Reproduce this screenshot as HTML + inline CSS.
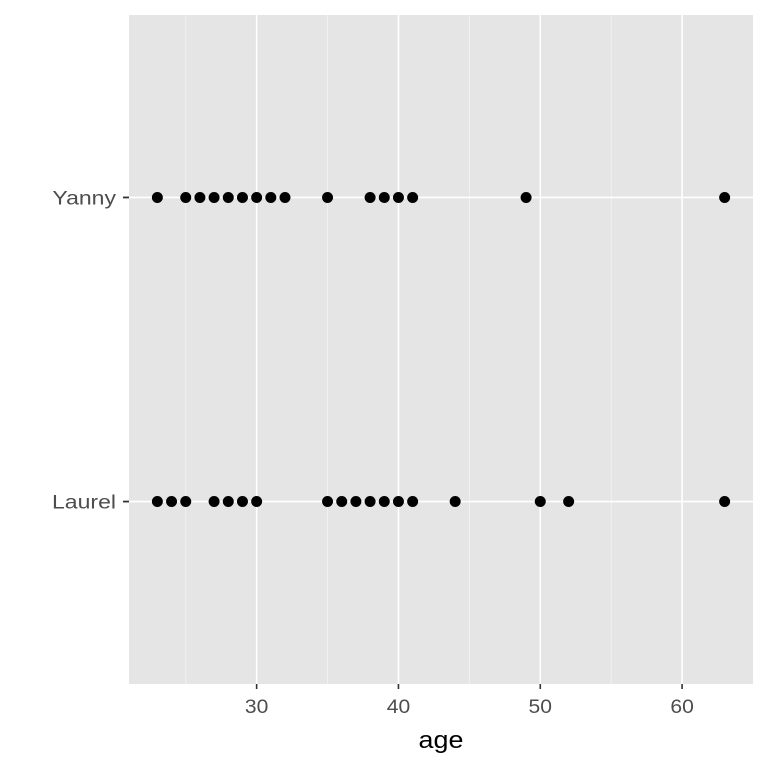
<!DOCTYPE html>
<html><head><meta charset="utf-8"><style>
body{margin:0;background:#fff;}
svg{display:block;font-family:"Liberation Sans",Arial,sans-serif;}
</style></head><body>
<svg id="chart" width="768" height="768"></svg>
<script>
const categories=["Laurel","Yanny"];
const yannyAges=[23,25,26,27,28,29,30,31,32,35,38,39,40,41,49,63];
const laurelAges=[23,24,25,27,28,29,30,35,36,37,38,39,40,41,44,50,52,63];
const xTicks=[30,40,50,60];
const xMinor=[25,35,45,55];
const L=129,R=753,T=15,B=684;
const xmin=21,xmax=65;
const sx=v=>L+(v-xmin)/(xmax-xmin)*(R-L);
const sy=i=>B-((i+1)-0.4)/2.2*(B-T);
const svg=document.getElementById('chart');
const NS="http://www.w3.org/2000/svg";
function mk(t,a,p){const e=document.createElementNS(NS,t);for(const k in a)e.setAttribute(k,a[k]);(p||svg).appendChild(e);return e;}
function widen(t,f){const w=t.getComputedTextLength();t.setAttribute('textLength',w*f);t.setAttribute('lengthAdjust','spacingAndGlyphs');}
const bg=mk('rect',{x:L,y:T,width:R-L,height:B-T,fill:'#e5e5e5'});


xMinor.forEach(v=>{const l=mk('line',{x1:sx(v),x2:sx(v),y1:T,y2:B,stroke:'#f2f2f2','stroke-width':0.9});

});
xTicks.forEach(v=>{const l=mk('line',{x1:sx(v),x2:sx(v),y1:T,y2:B,stroke:'#fff','stroke-width':1.6});


const tk=mk('line',{x1:sx(v),x2:sx(v),y1:B,y2:B+5,stroke:'#333','stroke-width':1.6});


const t=mk('text',{x:sx(v),y:B+29,'text-anchor':'middle','font-size':19.5,fill:'#4d4d4d'});t.textContent=v;
widen(t,1.08);

});
categories.forEach((c,i)=>{const y=sy(i);
const l=mk('line',{x1:L,x2:R,y1:y,y2:y,stroke:'#fff','stroke-width':1.6});


const tk=mk('line',{x1:L-6,x2:L,y1:y,y2:y,stroke:'#333','stroke-width':1.8});


const t=mk('text',{x:L-13,y:y+7,'text-anchor':'end','font-size':19.5,fill:'#4d4d4d'});t.textContent=c;
widen(t,1.18);

});
[[laurelAges,0],[yannyAges,1]].forEach(([arr,i])=>arr.forEach(v=>{
const p=mk('circle',{cx:sx(v),cy:sy(i),r:5.5,fill:'#000'});

}));
const xt=mk('text',{x:(L+R)/2,y:748,'text-anchor':'middle','font-size':24,fill:'#000'});xt.textContent='age';
widen(xt,1.12);


</script>
</body></html>
